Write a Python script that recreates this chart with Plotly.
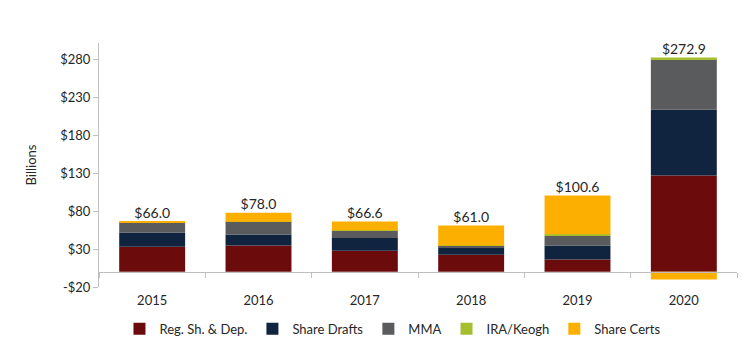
import plotly.graph_objects as go

years = ["2015", "2016", "2017", "2018", "2019", "2020"]
reg_sh_dep = [33.2, 34.9, 28.0, 22.6, 16.4, 127.0]
share_drafts = [18.8, 14.4, 16.6, 9.6, 18.5, 86.8]
mma = [13.6, 16.7, 10.1, 2.5, 12.7, 66.9]
ira_keogh = [0.05, 0.1, 0.1, 0.1, 2.0, 2.2]
share_certs = [0.35, 11.9, 11.8, 26.2, 51.0, -10.0]
total_labels = ["$66.0", "$78.0", "$66.6", "$61.0", "$100.6", "$272.9"]
y_ticks = [-20, 30, 80, 130, 180, 230, 280]

series = [
    ("Reg. Sh. & Dep.", reg_sh_dep, "#6C0B0C"),
    ("Share Drafts", share_drafts, "#10233F"),
    ("MMA", mma, "#595B5D"),
    ("IRA/Keogh", ira_keogh, "#A4BE2F"),
    ("Share Certs", share_certs, "#FDAF00"),
]

fig = go.Figure()
for name, vals, col in series:
    fig.add_trace(go.Bar(x=years, y=vals, name=name, marker=dict(color=col, line=dict(width=0))))

pos_tops = [sum(max(v, 0) for v in vals) for vals in zip(reg_sh_dep, share_drafts, mma, ira_keogh, share_certs)]
fig.add_trace(go.Scatter(x=years, y=pos_tops, mode="text", text=total_labels,
                         textposition="top center", textfont=dict(size=14, color="#262626"),
                         showlegend=False, hoverinfo="skip", xaxis="x2", yaxis="y"))

ymin, ymax = -20, 302
zero_frac = (0 - ymin) / (ymax - ymin)

fig.update_layout(
    width=750, height=347,
    margin=dict(l=99, r=13, t=43, b=60, autoexpand=False),
    paper_bgcolor="white", plot_bgcolor="white",
    barmode="relative", bargap=0.38,
    font=dict(family="Lato, Open Sans, sans-serif", size=13, color="#262626"),
    xaxis=dict(type="category", categoryorder="array", categoryarray=years,
               showline=False, ticks="", showgrid=False, tickfont=dict(size=13),
               ticklabelstandoff=4),
    xaxis2=dict(type="category", overlaying="x", matches="x", anchor="free",
                position=zero_frac, showline=True, linecolor="#BFBFBF", linewidth=1,
                ticks="outside", ticklen=5, tickcolor="#BFBFBF", tickson="boundaries",
                showticklabels=False, showgrid=False),
    yaxis=dict(range=[ymin, ymax], tickvals=y_ticks,
               ticktext=[("-$%d" % -v) if v < 0 else ("$%d" % v) for v in y_ticks],
               showline=True, linecolor="#BFBFBF", linewidth=1, ticks="outside",
               ticklen=5, tickcolor="#BFBFBF", showgrid=False, zeroline=False,
               title=dict(text="Billions", font=dict(size=13), standoff=20),
               tickfont=dict(size=13)),
    legend=dict(orientation="h", x=0.46, xanchor="center", y=-0.11, yanchor="top",
                traceorder="normal", font=dict(size=13), itemwidth=30,
                bgcolor="rgba(0,0,0,0)"),
    showlegend=True,
)

fig.write_html("out.html")
